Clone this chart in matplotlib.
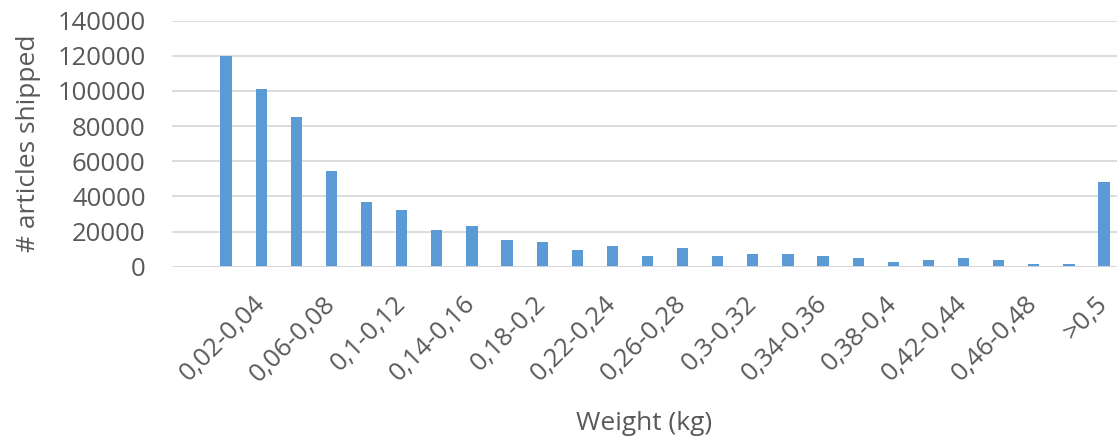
import numpy as np
import matplotlib.pyplot as plt

# weight bins (kg) and number of articles shipped per bin
bins = ["0-0,02", "0,02-0,04", "0,04-0,06", "0,06-0,08", "0,08-0,1", "0,1-0,12",
        "0,12-0,14", "0,14-0,16", "0,16-0,18", "0,18-0,2", "0,2-0,22", "0,22-0,24",
        "0,24-0,26", "0,26-0,28", "0,28-0,3", "0,3-0,32", "0,32-0,34", "0,34-0,36",
        "0,36-0,38", "0,38-0,4", "0,4-0,42", "0,42-0,44", "0,44-0,46", "0,46-0,48",
        "0,48-0,5", ">0,5"]
shipped = [120000, 101000, 85000, 54500, 36600, 32100, 20700, 23000, 15000, 14000,
           9500, 11600, 5900, 10500, 5900, 7000, 7000, 5900, 4800, 2500,
           3600, 4800, 3600, 1400, 1400, 48000]

plt.rcParams['font.family'] = ['Open Sans', 'DejaVu Sans']
txt = '#595959'

fig = plt.figure(figsize=(11.17, 4.44), dpi=100)
ax = fig.add_axes([0.154, 0.3993, 0.846, 0.5541])

x = np.arange(len(bins))
ax.bar(x, shipped, width=0.32, color='#5b9bd5', zorder=3)

ax.set_ylim(0, 140000)
ax.set_yticks(np.arange(0, 140001, 20000))
ax.set_xlim(-1.54, 25.37)
ax.grid(axis='y', color='#d9d9d9', linewidth=1.3, zorder=0)

# only every second category gets a label
ax.set_xticks(x[1::2])
ax.set_xticklabels(bins[1::2], rotation=45, ha='right', va='center',
                   rotation_mode='anchor')

for s in ax.spines.values():
    s.set_visible(False)
ax.axhline(0, color='#d9d9d9', linewidth=1.3, zorder=4)

ax.tick_params(axis='y', length=0, pad=19, labelsize=18.5, labelcolor=txt)
ax.tick_params(axis='x', length=0, pad=24, labelsize=18.5, labelcolor=txt)

ax.set_xlabel("Weight (kg)", fontsize=19, color=txt)
ax.xaxis.set_label_coords(0.5, -0.585)
ax.set_ylabel("# articles shipped", fontsize=19, color=txt, labelpad=12)

fig.savefig("out.png", dpi=100)
